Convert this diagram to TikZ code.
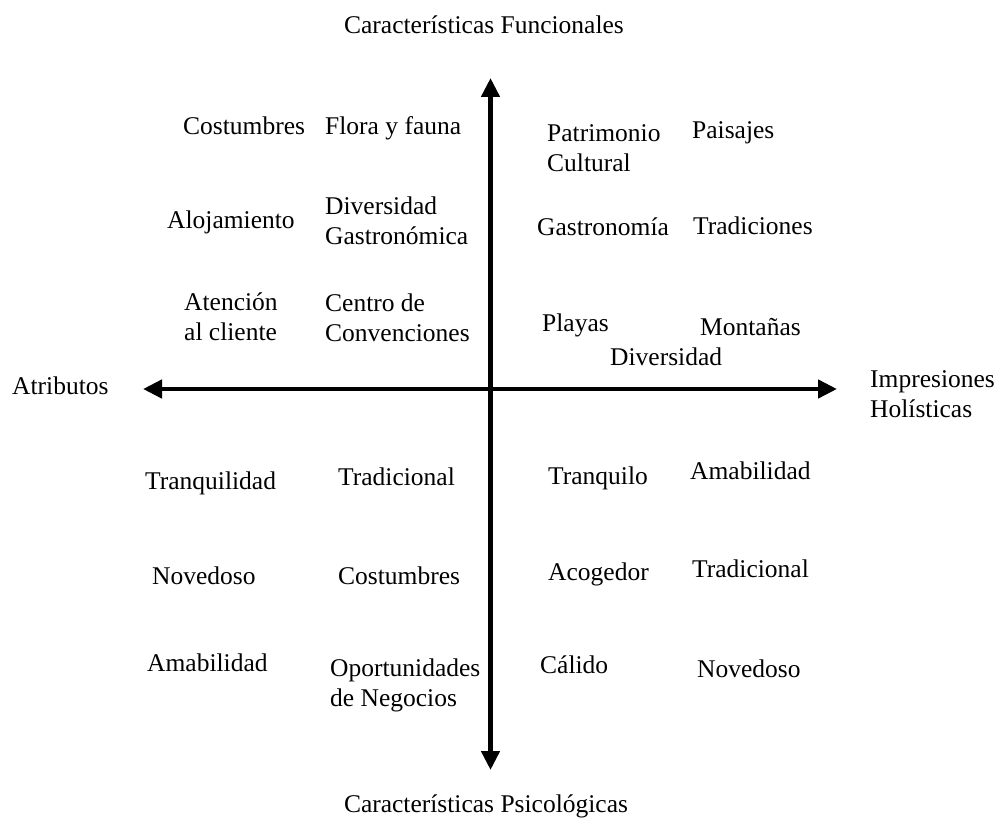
\documentclass[tikz,border=0pt]{standalone}
\usepackage{fontspec}
\setmainfont{Liberation Serif}
\usetikzlibrary{arrows.meta}
\begin{document}
\begin{tikzpicture}[x=1pt,y=-1pt,
  lbl/.style={anchor=base west,inner sep=0pt,align=left,font=\fontsize{25.5}{30}\selectfont},
  ttl/.style={anchor=base,inner sep=0pt,font=\fontsize{25.5}{30}\selectfont},
  axis/.style={line width=4.5pt,{Triangle[length=19pt,width=18pt]}-{Triangle[length=19pt,width=18pt]}}]
\useasboundingbox (0,0) rectangle (998,821);
% axis end points
\coordinate (top) at (490.5,78);
\coordinate (bottom) at (490.5,770);
\coordinate (left) at (143,389);
\coordinate (right) at (837,389);
\draw[axis] (bottom) -- (top);
\draw[axis] (left) -- (right);
% axis labels (multi-line nodes sit on the baseline of their last line)
\node[ttl] (funcionales) at (484,34) {Características Funcionales};
\node[ttl] (psicologicas) at (486,812) {Características Psicológicas};
\node[lbl] (atributos) at (12,394) {Atributos};
\node[lbl] (holisticas) at (870,417) {Impresiones\\Holísticas};
% functional attributes
\node[lbl] (ul1) at (183,135) {Costumbres};
\node[lbl] (ul2) at (325,135) {Flora y fauna};
\node[lbl] (ul3) at (167,229) {Alojamiento};
\node[lbl] (ul4) at (325,244) {Diversidad\\Gastronómica};
\node[lbl] (ul5) at (184,340) {Atención\\al cliente};
\node[lbl] (ul6) at (325,341) {Centro de\\Convenciones};
% functional holistic impressions
\node[lbl] (ur1) at (547,172) {Patrimonio\\Cultural};
\node[lbl] (ur2) at (692,139) {Paisajes};
\node[lbl] (ur3) at (537,235) {Gastronomía};
\node[lbl] (ur4) at (693,234) {Tradiciones};
\node[lbl] (ur5) at (542,331) {Playas};
\node[lbl] (ur6) at (700,335) {Montañas};
\node[lbl] (ur7) at (610,365) {Diversidad};
% psychological attributes
\node[lbl] (ll1) at (145,489) {Tranquilidad};
\node[lbl] (ll2) at (338,485) {Tradicional};
\node[lbl] (ll3) at (152,584) {Novedoso};
\node[lbl] (ll4) at (338,584) {Costumbres};
\node[lbl] (ll5) at (147,671) {Amabilidad};
\node[lbl] (ll6) at (330,706) {Oportunidades\\de Negocios};
% psychological holistic impressions
\node[lbl] (lr1) at (548,484) {Tranquilo};
\node[lbl] (lr2) at (690,479) {Amabilidad};
\node[lbl] (lr3) at (548,580) {Acogedor};
\node[lbl] (lr4) at (692,577) {Tradicional};
\node[lbl] (lr5) at (540,673) {Cálido};
\node[lbl] (lr6) at (697,677) {Novedoso};
\end{tikzpicture}
\end{document}
